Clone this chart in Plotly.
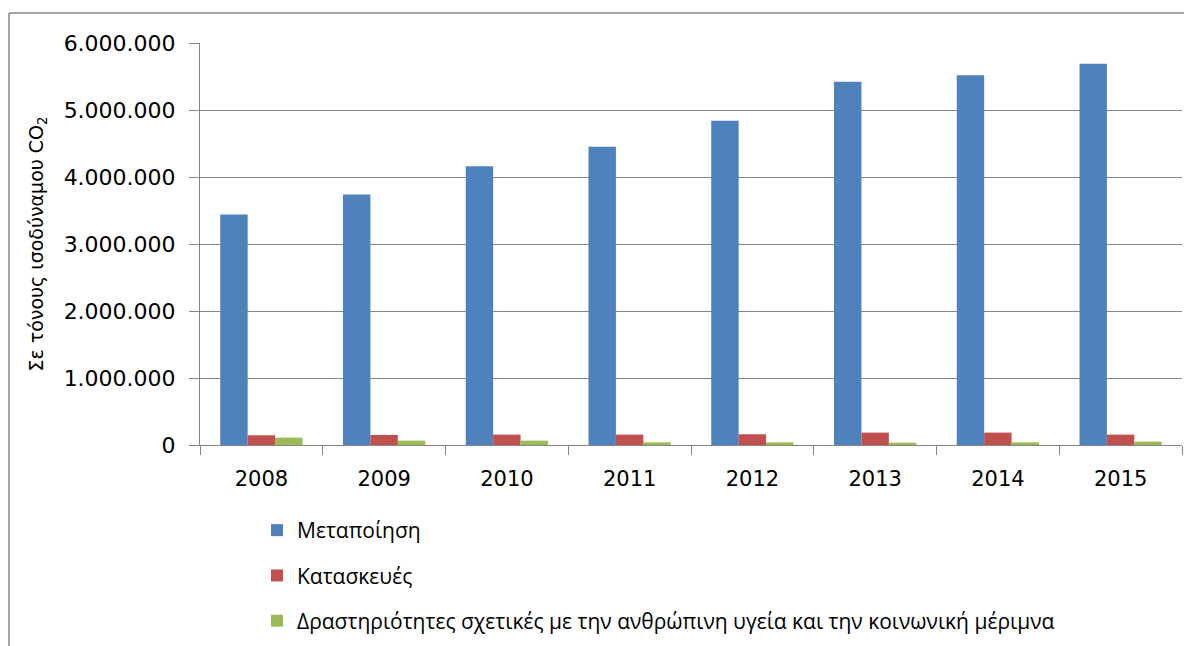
import plotly.graph_objects as go

years = ["2008", "2009", "2010", "2011", "2012", "2013", "2014", "2015"]
metapoiisi = [3440000, 3740000, 4160000, 4450000, 4840000, 5420000, 5520000, 5690000]
kataskeves = [145000, 150000, 155000, 155000, 160000, 185000, 185000, 155000]
ygeia = [110000, 65000, 65000, 40000, 40000, 35000, 40000, 50000]

names = ["Μεταποίηση", "Κατασκευές",
         "Δραστηριότητες σχετικές με την ανθρώπινη υγεία και την κοινωνική μέριμνα"]
colors = ["#4F81BD", "#C0504D", "#9BBB59"]
series = [metapoiisi, kataskeves, ygeia]

# page body has an 8px margin, so the figure is made 8px smaller each way
W, H = 1184, 638
ML, MR, MT, MB = 192, 10, 35, 201
PW, PH = W - ML - MR, H - MT - MB

fig = go.Figure()
for i, (nm, vals, c) in enumerate(zip(names, series, colors)):
    fig.add_trace(go.Bar(x=years, y=vals, name=nm, marker_color=c,
                         marker_line_width=0, legendgroup=str(i)))

font = "DejaVu Sans"
fig.update_layout(
    width=W, height=H,
    margin=dict(l=ML, r=MR, t=MT, b=MB, autoexpand=False),
    paper_bgcolor="white", plot_bgcolor="white",
    barmode="group", bargap=0.33, bargroupgap=0,
    separators=",.",
    font=dict(family=font, size=18, color="black"),
    legend=dict(
        orientation="v", x=57 / PW, xanchor="left",
        y=-(65) / PH, yanchor="top",
        traceorder="grouped", tracegroupgap=15,
        font=dict(family="Open Sans", size=21),
        itemwidth=30,
    ),
    xaxis=dict(
        automargin=False,
        showline=True, linecolor="#868686", linewidth=1,
        ticks="outside", tickson="boundaries", ticklen=9, tickcolor="#868686",
        tickfont=dict(family=font, size=21),
        ticklabelstandoff=15,
        showgrid=False,
    ),
    yaxis=dict(
        automargin=False,
        range=[0, 6000000], dtick=1000000, tickformat=",d",
        showgrid=True, gridcolor="#868686", gridwidth=1,
        showline=True, linecolor="#868686", linewidth=1,
        ticks="outside", ticklen=10, tickcolor="#868686",
        tickfont=dict(family=font, size=22),
        ticklabelstandoff=9,
        zeroline=False,
        title=dict(text="Σε τόνους ισοδύναμου CO<sub>2</sub>",
                   font=dict(family=font, size=19), standoff=14),
    ),
)

# outer chart frame (top and left edges)
x0 = (1 - ML) / PW
y0 = 1 + (MT - 5) / PH
fig.add_shape(type="line", xref="paper", yref="paper",
              x0=x0, x1=1 + (MR + 5) / PW, y0=y0, y1=y0,
              line=dict(color="#868686", width=1.5))
fig.add_shape(type="line", xref="paper", yref="paper",
              x0=x0, x1=x0, y0=y0, y1=-(MB + 5) / PH,
              line=dict(color="#868686", width=1.5))

fig.write_html("out.html")
